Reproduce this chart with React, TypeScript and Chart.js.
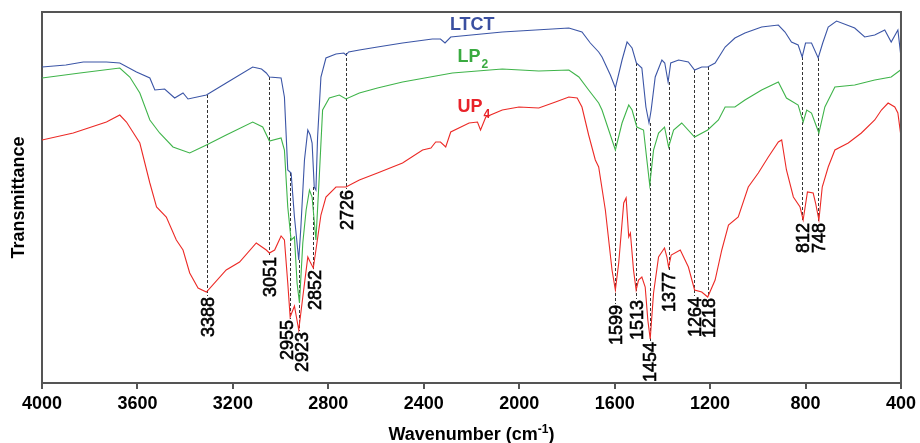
import React, { useEffect, useRef } from 'react';
import { Chart, registerables } from 'chart.js';

Chart.register(...registerables);

const FONT = '"Liberation Sans", Arial, Helvetica, sans-serif';

// Wavenumber (cm-1) and transmittance (arbitrary units)
const ltctWn = [4000, 3900, 3827, 3730, 3674, 3604, 3548, 3527, 3486, 3444, 3409, 3388, 3311, 3228, 3117, 3080, 3060, 3047, 2998, 2984, 2970, 2956, 2942, 2924, 2915, 2900, 2886, 2876, 2868, 2859, 2852, 2845, 2831, 2810, 2768, 2735, 2726, 2715, 2670, 2594, 2489, 2364, 2330, 2311, 2287, 2071, 1792, 1737, 1702, 1667, 1653, 1618, 1597, 1569, 1548, 1527, 1509, 1486, 1469, 1456, 1447, 1430, 1402, 1390, 1376, 1365, 1332, 1291, 1265, 1235, 1210, 1179, 1137, 1096, 1054, 984, 914, 886, 859, 831, 814, 800, 775, 747, 728, 705, 670, 594, 552, 510, 468, 441, 413, 402];
const ltctT = [316, 318, 321, 321, 320, 311, 305, 293, 294, 285, 290, 284, 288, 300, 316, 314, 310, 306, 305, 286, 213, 210, 166, 123, 156, 223, 253, 248, 240, 196, 193, 246, 306, 325, 329, 330, 328, 331, 333, 336, 340, 344, 344, 340, 346, 351, 355, 351, 340, 331, 326, 308, 295, 323, 341, 335, 320, 315, 276, 260, 273, 306, 323, 320, 301, 320, 323, 321, 313, 316, 316, 320, 336, 345, 350, 356, 358, 351, 341, 338, 326, 340, 340, 325, 340, 356, 362, 355, 346, 348, 353, 341, 353, 330];

const lp2Wn = [4000, 3841, 3674, 3632, 3590, 3548, 3507, 3451, 3381, 3311, 3228, 3117, 3075, 3047, 2998, 2984, 2970, 2956, 2942, 2931, 2921, 2907, 2893, 2879, 2868, 2852, 2838, 2824, 2796, 2754, 2726, 2670, 2594, 2489, 2280, 2071, 1918, 1792, 1750, 1709, 1667, 1653, 1597, 1569, 1541, 1527, 1507, 1479, 1465, 1453, 1437, 1416, 1391, 1374, 1353, 1319, 1265, 1210, 1165, 1137, 1096, 1054, 984, 914, 880, 831, 810, 795, 775, 744, 719, 677, 594, 510, 441, 402];
const lp2T = [305, 310, 315, 306, 290, 263, 250, 236, 230, 238, 248, 261, 256, 242, 245, 233, 176, 143, 146, 100, 80, 140, 173, 193, 186, 143, 206, 273, 285, 288, 284, 290, 295, 301, 310, 314, 312, 313, 306, 293, 280, 273, 233, 260, 278, 273, 256, 253, 223, 198, 233, 250, 256, 236, 253, 260, 246, 253, 263, 276, 276, 283, 293, 301, 285, 278, 261, 273, 270, 250, 276, 296, 298, 303, 306, 313];

const up4Wn = [4000, 3869, 3730, 3674, 3646, 3590, 3548, 3520, 3479, 3437, 3409, 3381, 3346, 3311, 3228, 3172, 3102, 3060, 3047, 3025, 2998, 2984, 2970, 2960, 2942, 2924, 2907, 2886, 2876, 2863, 2852, 2831, 2810, 2768, 2726, 2670, 2594, 2489, 2405, 2370, 2350, 2330, 2308, 2287, 2210, 2175, 2162, 2140, 2071, 2001, 1918, 1848, 1792, 1757, 1737, 1709, 1681, 1667, 1639, 1611, 1597, 1583, 1562, 1552, 1541, 1534, 1521, 1510, 1500, 1486, 1472, 1461, 1451, 1437, 1416, 1391, 1381, 1374, 1363, 1325, 1291, 1265, 1235, 1210, 1179, 1151, 1123, 1082, 1040, 998, 956, 914, 900, 880, 851, 823, 810, 792, 768, 758, 744, 730, 705, 677, 621, 566, 510, 482, 454, 426, 413, 402];
const up4T = [243, 250, 261, 268, 261, 240, 200, 176, 166, 143, 133, 110, 95, 91, 113, 121, 140, 133, 130, 133, 147, 143, 100, 66, 77, 53, 86, 126, 121, 115, 133, 168, 186, 196, 196, 203, 210, 220, 233, 235, 241, 241, 236, 251, 260, 261, 253, 266, 273, 276, 275, 281, 286, 285, 276, 248, 223, 216, 173, 113, 93, 120, 180, 185, 146, 150, 113, 93, 103, 106, 96, 63, 44, 90, 126, 135, 126, 116, 128, 133, 116, 93, 91, 86, 103, 133, 158, 166, 196, 210, 226, 241, 243, 213, 186, 176, 163, 191, 190, 180, 163, 196, 216, 233, 240, 250, 263, 273, 280, 276, 270, 250];

// Peak annotations
const peakLabels = ['3388', '3051', '2955', '2923', '2852', '2726', '1599', '1513', '1454', '1377', '1264', '1218', '812', '748'];
const peakLineWn = [3309, 3047, 2960, 2924, 2864, 2726, 1597, 1509, 1451, 1374, 1266, 1210, 813, 746];
const peakLineTop = [288, 306, 210, 123, 196, 330, 295, 320, 260, 301, 313, 316, 326, 325];
const peakLabelWn = [3305, 3045, 2972, 2912, 2856, 2723, 1593, 1507, 1450, 1374, 1263, 1204, 812, 744];
const peakLabelTop = [86, 126, 63, 51, 113, 193, 78, 83, 41, 111, 86, 85, 160, 160];

const xTicks = [4000, 3600, 3200, 2800, 2400, 2000, 1600, 1200, 800, 400];

const seriesNames = ['LTCT', 'LP', 'UP'];
const seriesSubs = ['', '2', '4'];
const seriesColors = ['#3b55a6', '#3fb44a', '#ec2a26'];
const nameColors = ['#3a4fa0', '#3aaa40', '#e8232a'];
const nameWn = [2197, 2259, 2259];
const nameT = [353, 321, 271];

function toPoints(wn: number[], t: number[]) {
  return wn.map((w, i) => ({ x: w, y: t[i] }));
}

const annotPlugin = {
  id: 'annot',
  beforeDatasetsDraw(chart: any) {
    const { ctx, scales } = chart;
    const xs = scales.x, ys = scales.y;
    ctx.save();
    ctx.strokeStyle = '#333';
    ctx.lineWidth = 1;
    ctx.setLineDash([3, 2]);
    peakLineWn.forEach((w, i) => {
      const x = Math.round(xs.getPixelForValue(w)) + 0.5;
      ctx.beginPath();
      ctx.moveTo(x, ys.getPixelForValue(peakLineTop[i]));
      ctx.lineTo(x, ys.getPixelForValue(peakLabelTop[i]) - 1);
      ctx.stroke();
    });
    ctx.restore();
  },
  afterDatasetsDraw(chart: any) {
    const { ctx, scales, chartArea } = chart;
    const xs = scales.x, ys = scales.y;
    ctx.save();
    // frame top/right
    ctx.strokeStyle = '#555';
    ctx.lineWidth = 2;
    ctx.beginPath();
    ctx.moveTo(chartArea.left, chartArea.top);
    ctx.lineTo(chartArea.right, chartArea.top);
    ctx.lineTo(chartArea.right, chartArea.bottom);
    ctx.stroke();

    // peak labels
    ctx.fillStyle = '#000';
    ctx.strokeStyle = '#000';
    ctx.lineWidth = 0.6;
    ctx.font = `18px ${FONT}`;
    ctx.textAlign = 'right';
    ctx.textBaseline = 'middle';
    peakLabels.forEach((lab, i) => {
      const x = xs.getPixelForValue(peakLabelWn[i]);
      const y = ys.getPixelForValue(peakLabelTop[i]);
      ctx.save();
      ctx.translate(x + 1, y);
      ctx.rotate(-Math.PI / 2);
      ctx.fillText(lab, 0, 0);
      ctx.strokeText(lab, 0, 0);
      ctx.restore();
    });

    // series names
    ctx.textBaseline = 'alphabetic';
    seriesNames.forEach((n, i) => {
      ctx.fillStyle = nameColors[i];
      ctx.font = `bold 18px ${FONT}`;
      const x = xs.getPixelForValue(nameWn[i]);
      const y = ys.getPixelForValue(nameT[i]);
      if (i === 0) {
        ctx.textAlign = 'center';
        ctx.fillText(n, x, y);
      } else {
        ctx.textAlign = 'left';
        ctx.fillText(n, x, y);
        const w = ctx.measureText(n).width;
        ctx.font = `bold 12px ${FONT}`;
        ctx.fillText(seriesSubs[i], x + w + 1, y + 6);
      }
    });

    // axis titles
    ctx.fillStyle = '#000';
    ctx.font = `bold 18px ${FONT}`;
    const main = 'Wavenumber (cm';
    const sup = '-1';
    const close = ')';
    const w1 = ctx.measureText(main).width;
    const w3 = ctx.measureText(close).width;
    ctx.font = `bold 12px ${FONT}`;
    const w2 = ctx.measureText(sup).width;
    const total = w1 + w2 + w3;
    const cx = (chartArea.left + chartArea.right) / 2;
    const sx = cx - total / 2;
    const base = 440;
    ctx.textAlign = 'left';
    ctx.font = `bold 18px ${FONT}`;
    ctx.fillText(main, sx, base);
    ctx.font = `bold 12px ${FONT}`;
    ctx.fillText(sup, sx + w1, base - 7);
    ctx.font = `bold 18px ${FONT}`;
    ctx.fillText(close, sx + w1 + w2, base);

    ctx.save();
    ctx.translate(24, (chartArea.top + chartArea.bottom) / 2);
    ctx.rotate(-Math.PI / 2);
    ctx.textAlign = 'center';
    ctx.textBaseline = 'alphabetic';
    ctx.fillText('Transmittance', 0, 0);
    ctx.restore();

    ctx.restore();
  },
};

export default function App() {
  const ref = useRef<HTMLCanvasElement | null>(null);
  useEffect(() => {
    if (!ref.current) return;
    const chart = new Chart(ref.current, {
      type: 'line',
      data: {
        datasets: [
          { label: 'LTCT', data: toPoints(ltctWn, ltctT), borderColor: seriesColors[0], borderWidth: 1.1, pointRadius: 0, tension: 0 },
          { label: 'LP2', data: toPoints(lp2Wn, lp2T), borderColor: seriesColors[1], borderWidth: 1.1, pointRadius: 0, tension: 0 },
          { label: 'UP4', data: toPoints(up4Wn, up4T), borderColor: seriesColors[2], borderWidth: 1.1, pointRadius: 0, tension: 0 },
        ],
      },
      options: {
        responsive: false,
        animation: false,
        devicePixelRatio: 1,
        layout: { padding: { top: 12, right: 17, left: 0, bottom: 0 } },
        plugins: { legend: { display: false }, tooltip: { enabled: false }, title: { display: false } },
        scales: {
          x: {
            type: 'linear',
            reverse: true,
            min: 400,
            max: 4000,
            afterBuildTicks: (s: any) => { s.ticks = xTicks.map((v) => ({ value: v })); },
            afterFit: (s: any) => { s.height = 60; },
            ticks: {
              callback: (v: any) => String(v),
              font: { family: FONT, size: 18, weight: 'bold' },
              color: '#000',
              padding: 4,
              maxRotation: 0,
              autoSkip: false,
            },
            grid: { display: true, drawOnChartArea: false, drawTicks: true, tickLength: 6, color: '#555', lineWidth: 2 },
            border: { display: true, color: '#555', width: 2 },
          },
          y: {
            min: 0,
            max: 371,
            afterFit: (s: any) => { s.width = 42; },
            ticks: { display: false },
            grid: { display: false },
            border: { display: true, color: '#555', width: 2 },
          },
        },
      } as any,
      plugins: [annotPlugin],
    });
    return () => chart.destroy();
  }, []);
  return (
    <div style={{ position: 'absolute', left: 0, top: 0, width: 920, height: 443, background: '#fff' }}>
      <canvas ref={ref} width={920} height={443} style={{ width: 920, height: 443, display: 'block' }} />
    </div>
  );
}
